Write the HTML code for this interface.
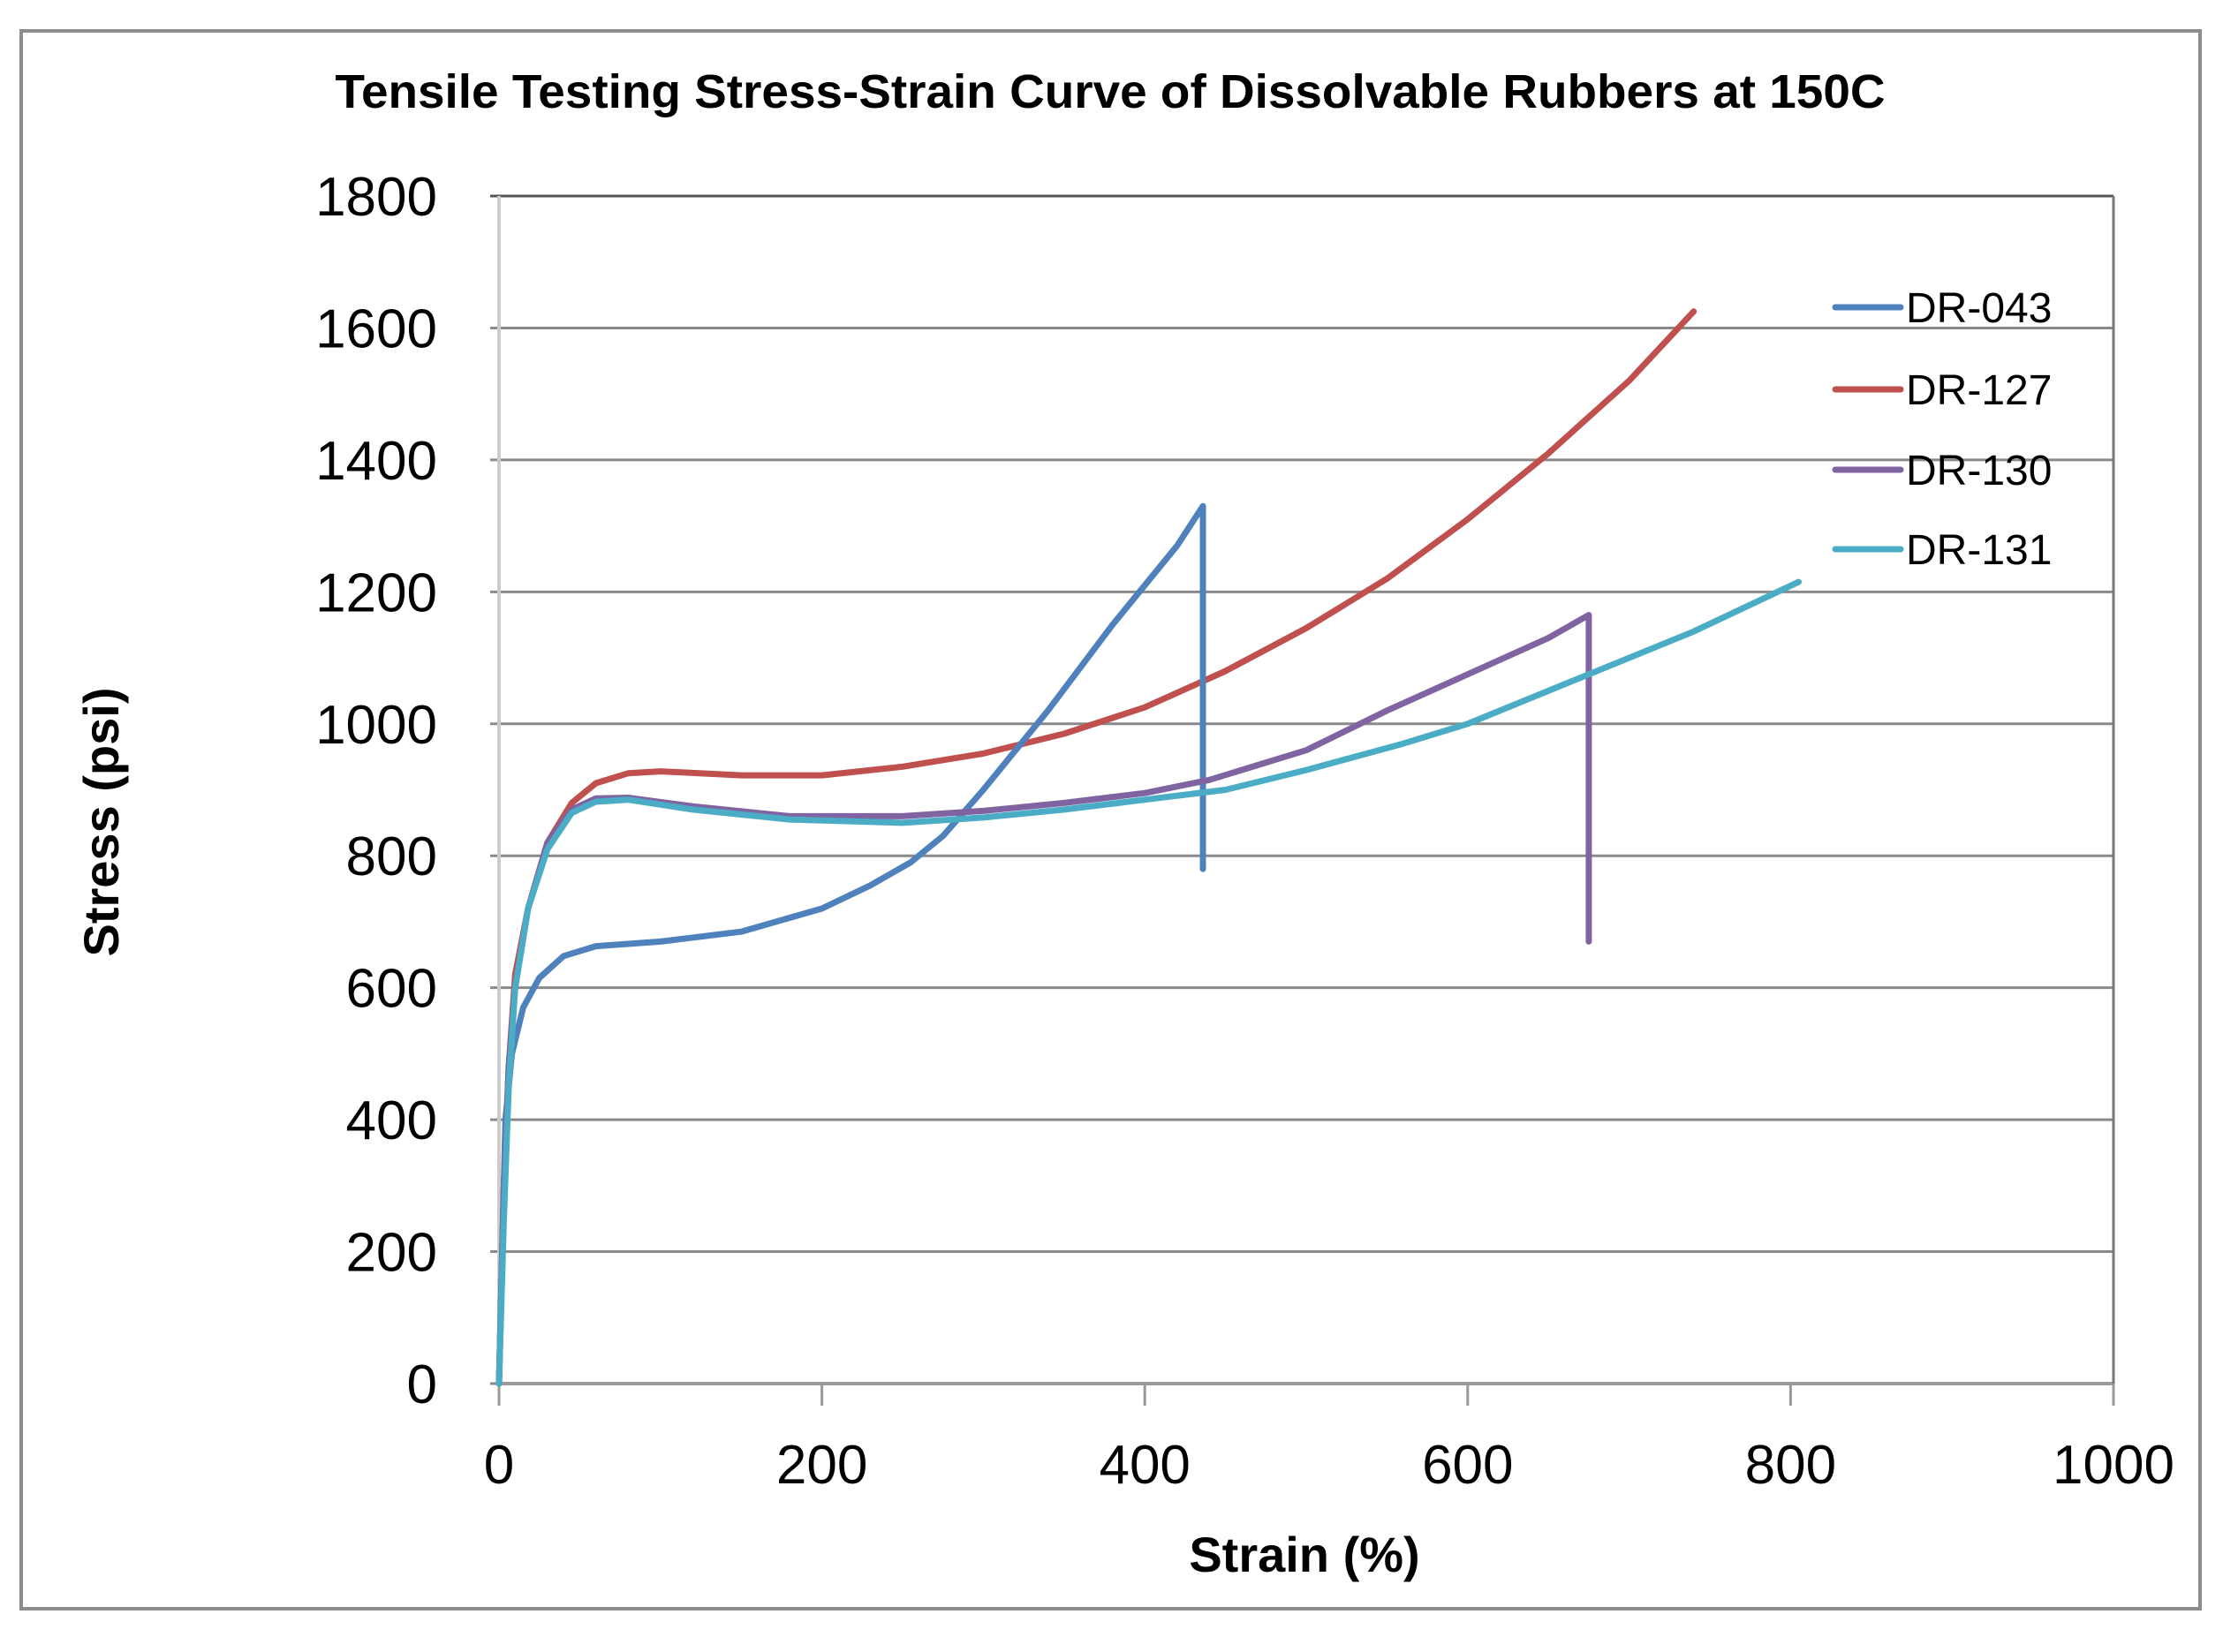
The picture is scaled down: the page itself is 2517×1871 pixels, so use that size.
<!DOCTYPE html>
<html><head><meta charset="utf-8"><style>
html,body{margin:0;padding:0;background:#fff;}
svg text{font-family:"Liberation Sans",sans-serif;fill:#000;}
</style></head><body>
<svg id="chart" width="2517" height="1866" viewBox="0 0 2517 1866" xmlns="http://www.w3.org/2000/svg">
<rect x="24" y="35" width="2467" height="1787" fill="#fff" stroke="#8c8c8c" stroke-width="4"/>
<text x="1257" y="122" text-anchor="middle" font-size="54" font-weight="bold" textLength="1755" lengthAdjust="spacingAndGlyphs">Tensile Testing Stress-Strain Curve of Dissolvable Rubbers at 150C</text>
<g id="grid"></g>
<g id="axes"></g>
<g id="series"></g>
<g id="legend"></g>
<text x="1477" y="1780" text-anchor="middle" font-size="56" font-weight="bold">Strain (%)</text>
<text x="0" y="0" transform="translate(134,931) rotate(-90)" text-anchor="middle" font-size="56" font-weight="bold">Stress (psi)</text>
</svg>
<script>
const xTicks=[0,200,400,600,800,1000];
const yTicks=[0,200,400,600,800,1000,1200,1400,1600,1800];
const seriesNames=["DR-043","DR-127","DR-130","DR-131"];
const seriesColors=["#4F81BD","#C0504D","#8064A2","#4BACC6"];
const dr043X=[0,2,4,8,15,25,40,60,100,150,200,230,255,275,300,340,380,420,436,436];
const dr043Y=[0,200,400,500,570,615,648,663,670,685,720,755,790,830,900,1020,1150,1270,1330,780];
const dr127X=[0,3,6,10,18,30,45,60,80,100,150,200,250,300,350,400,450,500,550,600,650,700,740];
const dr127Y=[0,300,480,620,720,820,880,910,925,928,922,922,935,955,985,1025,1080,1145,1220,1310,1410,1520,1625];
const dr130X=[0,3,6,10,18,30,45,60,80,120,180,250,300,350,400,440,500,550,600,650,675,675];
const dr130Y=[0,300,480,600,720,820,870,887,888,875,860,860,868,880,895,915,960,1020,1075,1130,1165,670];
const dr131X=[0,3,6,10,18,30,45,60,80,120,180,250,300,350,400,450,500,560,600,675,740,805];
const dr131Y=[0,250,450,600,720,810,865,882,885,870,855,850,858,870,885,900,930,970,1000,1075,1140,1215];

const NS="http://www.w3.org/2000/svg";
const X0=565,X1=2393,Y0=1567,Y1=222;
function sx(v){return X0+(v-0)/(1000-0)*(X1-X0);}
function sy(v){return Y0-(v-0)/(1800-0)*(Y0-Y1);}
function mk(tag,attrs,parent){const e=document.createElementNS(NS,tag);for(const k in attrs)e.setAttribute(k,attrs[k]);parent.appendChild(e);return e;}
const grid=document.getElementById('grid'),axes=document.getElementById('axes'),ser=document.getElementById('series'),leg=document.getElementById('legend');
yTicks.forEach(t=>{
  const l=mk('line',{x1:X0-10,x2:X1,y1:sy(t),y2:sy(t),stroke:t===1800?'#555':'#8a8a8a','stroke-width':3},grid);
  
  
  const tx=mk('text',{x:495,y:sy(t)+22,'text-anchor':'end','font-size':62},axes);
  tx.textContent=t;
  
  
});
xTicks.forEach(t=>{
  const l=mk('line',{x1:sx(t),x2:sx(t),y1:Y0,y2:Y0+25,stroke:'#999','stroke-width':3},axes);
  
  
  const tx=mk('text',{x:sx(t),y:1680,'text-anchor':'middle','font-size':62},axes);
  tx.textContent=t;
  
  
});
const ya=mk('line',{x1:X0,x2:X0,y1:Y1,y2:Y0,stroke:'#ccc','stroke-width':4},axes);


const xa=mk('line',{x1:X0,x2:X1,y1:Y0,y2:Y0,stroke:'#999','stroke-width':4},axes);


const ra=mk('line',{x1:X1,x2:X1,y1:Y1,y2:Y0,stroke:'#777','stroke-width':3},axes);


const data=[[dr043X,dr043Y],[dr127X,dr127Y],[dr130X,dr130Y],[dr131X,dr131Y]];
const order=[1,0,2,3];
order.forEach(i=>{
  const [xs,ys]=data[i];
  const d=xs.map((x,j)=>(j?'L':'M')+sx(x).toFixed(1)+','+sy(ys[j]).toFixed(1)).join(' ');
  const p=mk('path',{d:d,fill:'none',stroke:seriesColors[i],'stroke-width':7,'stroke-linejoin':'round','stroke-linecap':'round'},ser);
  
  
});
const legY=[348,441,532,622];
seriesNames.forEach((n,i)=>{
  const g=mk('g',{},leg);
  
  
  mk('line',{x1:2078,x2:2152,y1:legY[i],y2:legY[i],stroke:seriesColors[i],'stroke-width':7,'stroke-linecap':'round'},g);
  const t=mk('text',{x:2158,y:legY[i]+17,'font-size':48},g);
  t.textContent=n;
});
</script>
</body></html>
